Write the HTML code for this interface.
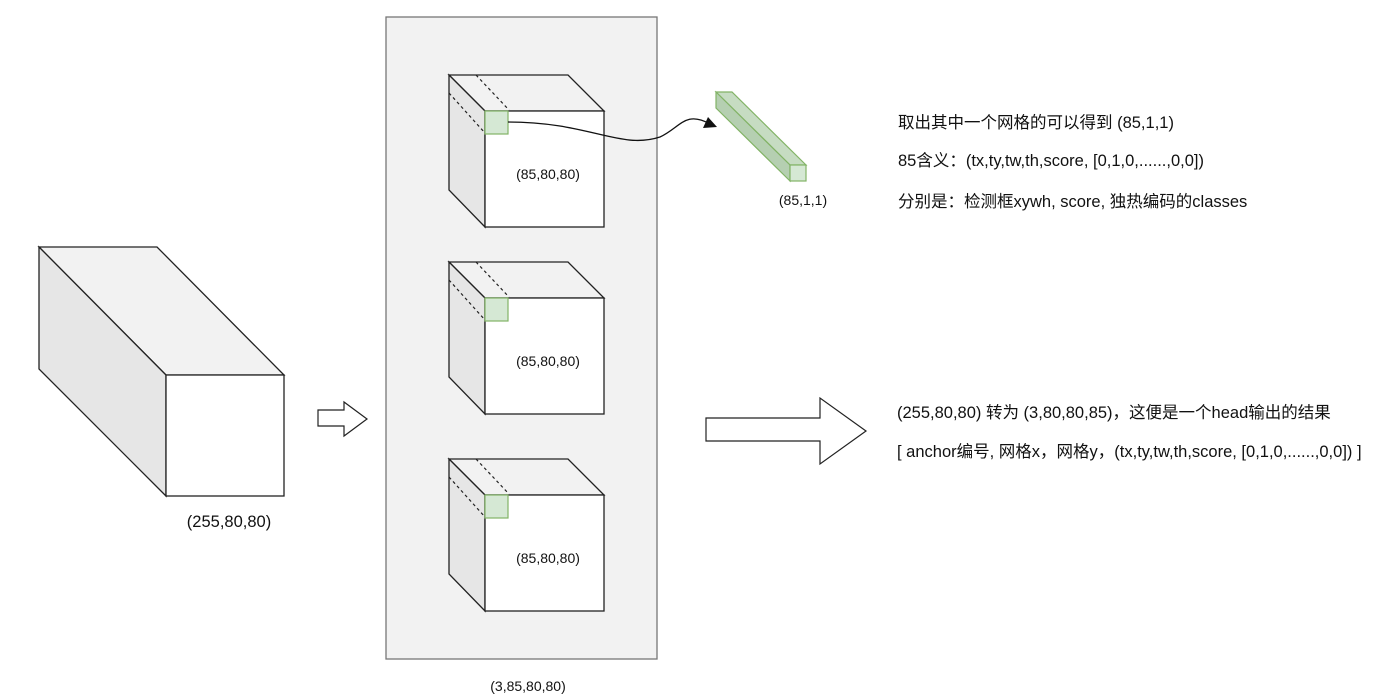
<!DOCTYPE html>
<html><head><meta charset="utf-8"><style>
html,body{margin:0;padding:0;background:#fff;width:1391px;height:697px;overflow:hidden}
text{font-family:"Liberation Sans","Noto Sans CJK SC",sans-serif;fill:#111}
</style></head><body>
<svg width="1391" height="697" viewBox="0 0 1391 697" xmlns="http://www.w3.org/2000/svg">
<defs>
<g id="cube">
  <polygon points="449,75 568,75 604,111 485,111" fill="#f2f2f2" stroke="#222" stroke-width="1.3"/>
  <polygon points="449,75 485,111 485,227 449,190" fill="#e6e6e6" stroke="#222" stroke-width="1.3"/>
  <rect x="485" y="111" width="119" height="116" fill="#fff" stroke="#222" stroke-width="1.3"/>
  <line x1="476" y1="75" x2="509" y2="110" stroke="#222" stroke-width="1.2" stroke-dasharray="3,3"/>
  <line x1="449" y1="93" x2="485" y2="133" stroke="#222" stroke-width="1.2" stroke-dasharray="3,3"/>
  <rect x="485" y="111" width="23" height="23" fill="#d5e8d4" stroke="#82b366" stroke-width="1.2"/>
  <text x="548" y="179" font-size="14" text-anchor="middle">(85,80,80)</text>
</g>
</defs>
<polygon points="39,247 157,247 284,375 166,375" fill="#f2f2f2" stroke="#222" stroke-width="1.3"/>
<polygon points="39,247 166,375 166,496 39,369" fill="#e6e6e6" stroke="#222" stroke-width="1.3"/>
<rect x="166" y="375" width="118" height="121" fill="#fff" stroke="#222" stroke-width="1.3"/>
<text x="229" y="527" font-size="16.5" text-anchor="middle">(255,80,80)</text>
<polygon points="318,410 344,410 344,402 367,419 344,436 344,426 318,426" fill="#fff" stroke="#222" stroke-width="1.2"/>
<rect x="386" y="17" width="271" height="642" fill="#f2f2f2" stroke="#777" stroke-width="1.3"/>
<text x="528" y="691" font-size="14" text-anchor="middle">(3,85,80,80)</text>
<use href="#cube"/>
<use href="#cube" transform="translate(0,187)"/>
<use href="#cube" transform="translate(0,384)"/>
<path d="M508,122 C590,122 620,150 660,137 C680,128 685,110 710,124" fill="none" stroke="#111" stroke-width="1.3"/>
<polygon points="717,127 703,128 708,117" fill="#111"/>
<polygon points="716,92 732,92 806,165 790,165" fill="#c6dcc2" stroke="#82b366" stroke-width="1.2"/>
<polygon points="716,92 790,165 790,181 716,108" fill="#b5cfb1" stroke="#82b366" stroke-width="1.2"/>
<rect x="790" y="165" width="16" height="16" fill="#d5e8d4" stroke="#82b366" stroke-width="1.2"/>
<text x="803" y="205" font-size="14" text-anchor="middle">(85,1,1)</text>
<text x="898" y="128" font-size="16.5">取出其中一个网格的可以得到 (85,1,1)</text>
<text x="898" y="166" font-size="16.5">85含义：(tx,ty,tw,th,score, [0,1,0,......,0,0])</text>
<text x="898" y="207" font-size="16.5">分别是：检测框xywh, score, 独热编码的classes</text>
<polygon points="706,418 820,418 820,398 866,431 820,464 820,441 706,441" fill="#fff" stroke="#222" stroke-width="1.2"/>
<text x="897" y="418" font-size="16.5">(255,80,80) 转为 (3,80,80,85)，这便是一个head输出的结果</text>
<text x="897" y="457" font-size="16.5">[ anchor编号, 网格x，网格y，(tx,ty,tw,th,score, [0,1,0,......,0,0]) ]</text>
</svg>
</body></html>
